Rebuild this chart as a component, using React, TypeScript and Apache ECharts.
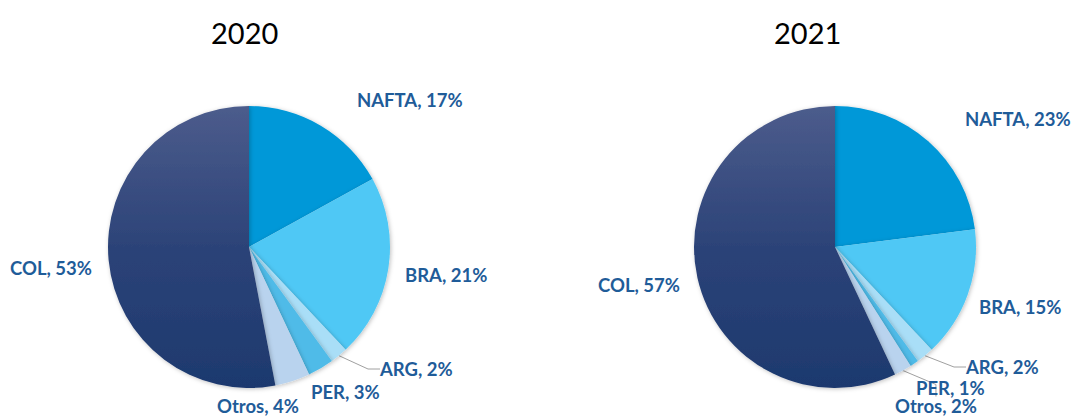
import React, { useEffect, useRef } from "react";
import * as echarts from "echarts";

const categories = ["NAFTA", "BRA", "ARG", "PER", "Otros", "COL"];
const years = ["2020", "2021"];
const values2020 = [17, 21, 2, 3, 4, 53];
const values2021 = [23, 15, 2, 1, 2, 57];
const lineShown2020 = [false, false, true, false, false, false];
const lineShown2021 = [false, false, true, false, true, false];

// label anchor positions (left-middle of text), pixel layout only
const labelPos = [
  [[357, 100], [405, 275], [380, 369], [311, 392], [217, 406], [10, 268]],
  [[965, 119], [979, 307], [966, 367], [916, 388], [895, 406], [598, 285]],
];

const colors = ["#0098d8", "#4fc8f5", "#a9def7", "#4fbbe8", "#b9d3ee", "COL"];

export default function App() {
  const ref = useRef<HTMLDivElement>(null);
  useEffect(() => {
    document.body.style.margin = "0";
    const chart = echarts.init(ref.current!, null, { renderer: "svg" });
    const colGrad = new echarts.graphic.LinearGradient(0, 0, 0, 1, [
      { offset: 0, color: "#4c5c8c" },
      { offset: 0.5, color: "#2c4378" },
      { offset: 1, color: "#1d396e" },
    ]);
    const makeData = (vals: number[], lines: boolean[]) =>
      categories.map((c, i) => ({
        name: c,
        value: vals[i],
        itemStyle: { color: colors[i] === "COL" ? colGrad : colors[i] },
        labelLine: { show: lines[i] },
      }));
    const mkSeries = (idx: number, cx: number, vals: number[], lines: boolean[]) => ({
      type: "pie",
      radius: 141,
      center: [cx, 247],
      startAngle: 90,
      clockwise: true,
      data: makeData(vals, lines),
      itemStyle: {
        shadowBlur: 4,
        shadowColor: "rgba(0,0,0,0.25)",
        shadowOffsetX: 1,
        shadowOffsetY: 1,
      },
      label: {
        show: true,
        position: "outside",
        overflow: "none",
        formatter: (p: any) => `${p.name}, ${p.value}%`,
        color: "#1f5c99",
        fontFamily: "Lato",
        fontWeight: "bold",
        fontSize: 18.5,
      },
      labelLine: {
        show: true,
        length: 15,
        length2: 12,
        lineStyle: { color: "#a0a0a0", width: 1 },
      },
      labelLayout: (p: any) => {
        const pos = labelPos[idx][p.dataIndex];
        return { x: pos[0], y: pos[1], align: "left", verticalAlign: "middle" };
      },
      emphasis: { disabled: true },
    });
    const titleStyle = { fontFamily: "Lato", fontWeight: "normal", fontSize: 29, color: "#000" };
    chart.setOption({
      animation: false,
      title: [
        { text: years[0], left: 206, top: 13, textStyle: titleStyle },
        { text: years[1], left: 769, top: 13, textStyle: titleStyle },
      ],
      series: [
        mkSeries(0, 249, values2020, lineShown2020),
        mkSeries(1, 835, values2021, lineShown2021),
      ],
    });
    return () => chart.dispose();
  }, []);
  return <div ref={ref} style={{ width: 1073, height: 416 }} />;
}
